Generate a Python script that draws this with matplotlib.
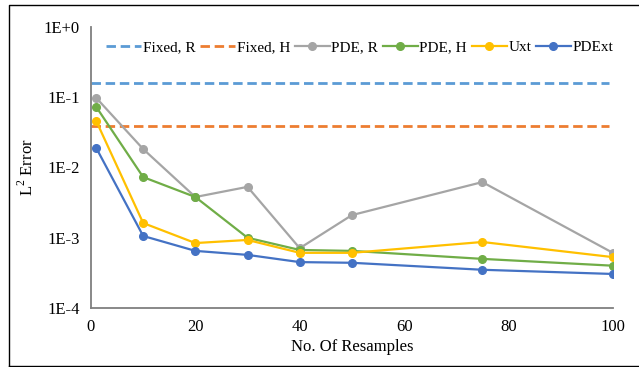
import numpy as np
import matplotlib.pyplot as plt
from matplotlib.lines import Line2D

plt.rcParams['font.family'] = ['Liberation Serif', 'DejaVu Serif']
plt.rcParams['mathtext.fontset'] = 'custom'
plt.rcParams['mathtext.rm'] = 'Liberation Serif'

# data
resamples = [1, 10, 20, 30, 40, 50, 75, 100]
fixed_r = 0.16
fixed_h = 0.039
pde_r = [0.098, 0.0183, 0.0038, 0.0053, 7.1e-4, 0.0021, 0.0062, 6.1e-4]
pde_h = [0.073, 0.0073, 0.0038, 1.0e-3, 6.7e-4, 6.5e-4, 5.0e-4, 4.0e-4]
uxt = [0.046, 1.62e-3, 8.4e-4, 9.3e-4, 6.1e-4, 6.1e-4, 8.7e-4, 5.3e-4]
pdext = [0.019, 1.06e-3, 6.5e-4, 5.7e-4, 4.5e-4, 4.4e-4, 3.5e-4, 3.05e-4]
yticks = [1e-4, 1e-3, 1e-2, 1e-1, 1e0]
ytick_labels = ['1E-4', '1E-3', '1E-2', '1E-1', '1E+0']

fig = plt.figure(figsize=(6.39, 3.67), dpi=100)
ax = fig.add_axes([0.1424, 0.1608, 0.8166, 0.7656])

# outer frame (right edge is cut off in the reference)
fig.add_artist(Line2D([9/639, 9/639, 1.0], [1 - 366/367, 1 - 5/367, 1 - 5/367],
                      transform=fig.transFigure, color='black', lw=1.0))
fig.add_artist(Line2D([9/639, 1.0], [1 - 366/367, 1 - 366/367],
                      transform=fig.transFigure, color='black', lw=1.0))

dash = (0, (3.4, 1.7))
ax.plot([0, 99.3], [fixed_r, fixed_r], color='#5B9BD5', lw=2.0, ls=dash, label='Fixed, R')
ax.plot([0, 99.3], [fixed_h, fixed_h], color='#ED7D31', lw=2.0, ls=dash, label='Fixed, H')
ax.plot(resamples, pde_r, color='#A5A5A5', lw=1.6, marker='o', ms=5.5, label='PDE, R')
ax.plot(resamples, pde_h, color='#70AD47', lw=1.6, marker='o', ms=5.5, label='PDE, H')
ax.plot(resamples, uxt, color='#FFC000', lw=1.6, marker='o', ms=5.5, label='Uxt')
ax.plot(resamples, pdext, color='#4472C4', lw=1.6, marker='o', ms=5.5, label='PDExt')

ax.set_yscale('log')
ax.set_ylim(1e-4, 1e0)
ax.set_xlim(0, 100)
ax.set_yticks(yticks)
ax.set_yticklabels(ytick_labels)
ax.yaxis.set_minor_locator(plt.NullLocator())
ax.set_xticks([0, 20, 40, 60, 80, 100])
ax.tick_params(length=0, labelsize=12, pad=8)

for s in ['top', 'right']:
    ax.spines[s].set_visible(False)
for s in ['left', 'bottom']:
    ax.spines[s].set_color('#7F7F7F')
    ax.spines[s].set_linewidth(1.3)

ax.set_xlabel('No. Of Resamples', fontsize=12, labelpad=3)
ax.set_ylabel(r'L$^{\mathrm{2}}$ Error', fontsize=12, labelpad=5)

ax.legend(loc='upper center', bbox_to_anchor=(0.515, 0.985), ncol=6, frameon=False,
          fontsize=11, handlelength=2.3, handletextpad=0.1, columnspacing=0.3,
          borderaxespad=0.2)

plt.savefig('out.png', dpi=100)
